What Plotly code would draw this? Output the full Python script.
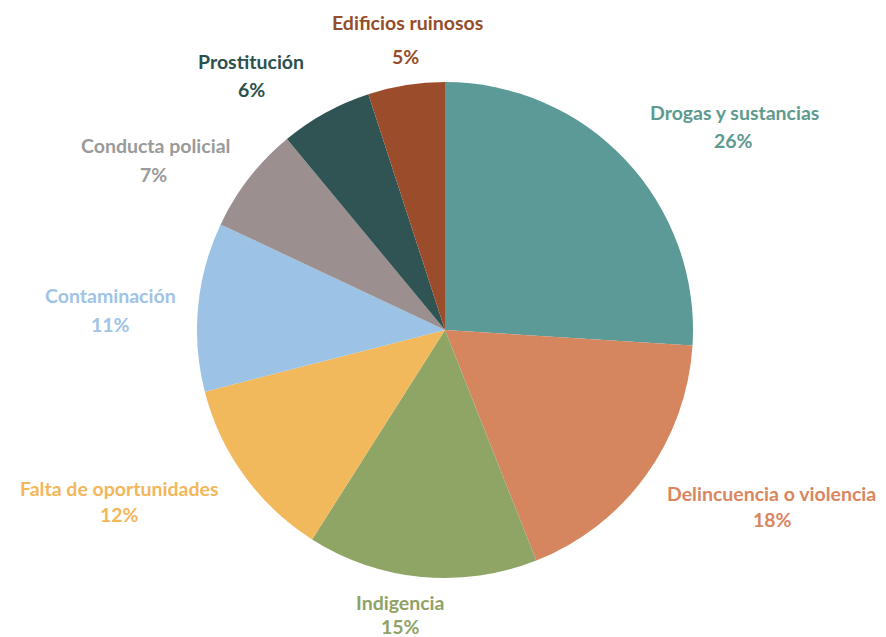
import plotly.graph_objects as go

W, H = 886, 637

categories = ["Drogas y sustancias", "Delincuencia o violencia", "Indigencia",
              "Falta de oportunidades", "Contaminación", "Conducta policial",
              "Prostitución", "Edificios ruinosos"]
values = [26, 18, 15, 12, 11, 7, 6, 5]

slice_colors = ["#5B9A97", "#D6865E", "#8FA566", "#F2B95C", "#9CC2E5",
                "#9B8F8F", "#2F5453", "#9B4C2A"]
label_colors = ["#5E9A8E", "#D9865F", "#8FA266", "#F2B75B", "#A0C3E6",
                "#9A9A9A", "#2B514F", "#954D2A"]

# label layout (pixel centers): (name_x, name_y, pct_x, pct_y)
label_pos = [
    (734, 113, 733, 140),
    (771, 493, 772, 519),
    (400, 602, 400, 626),
    (119, 488, 119, 514),
    (110, 296, 110, 324),
    (155, 146, 153, 174),
    (251, 62, 251, 89),
    (407, 22, 405, 56),
]

cx, cy, R = 445, 330, 248

fig = go.Figure(go.Pie(
    labels=categories,
    values=values,
    sort=False,
    direction="clockwise",
    rotation=0,
    marker=dict(colors=slice_colors, line=dict(width=0)),
    textinfo="none",
    hoverinfo="label+percent",
    domain=dict(x=[(cx - R) / W, (cx + R) / W],
                y=[1 - (cy + R) / H, 1 - (cy - R) / H]),
    showlegend=False,
))

font = dict(family="Lato, 'Open Sans', sans-serif", size=19.5, weight="bold")
annotations = []
for cat, v, col, (nx, ny, px, py) in zip(categories, values, label_colors, label_pos):
    annotations.append(dict(text=cat, x=nx / W, y=1 - ny / H, xref="paper", yref="paper",
                            xanchor="center", yanchor="middle", showarrow=False,
                            borderpad=0, font=dict(font, color=col)))
    annotations.append(dict(text=f"{v}%", x=px / W, y=1 - py / H, xref="paper", yref="paper",
                            xanchor="center", yanchor="middle", showarrow=False,
                            borderpad=0, font=dict(font, color=col)))

fig.update_layout(
    width=W, height=H,
    margin=dict(l=0, r=0, t=0, b=0),
    paper_bgcolor="white",
    plot_bgcolor="white",
    annotations=annotations,
)

fig.write_html("out.html",
               config={"displayModeBar": False},
               post_script="document.body.style.margin='0';document.body.style.padding='0';")
